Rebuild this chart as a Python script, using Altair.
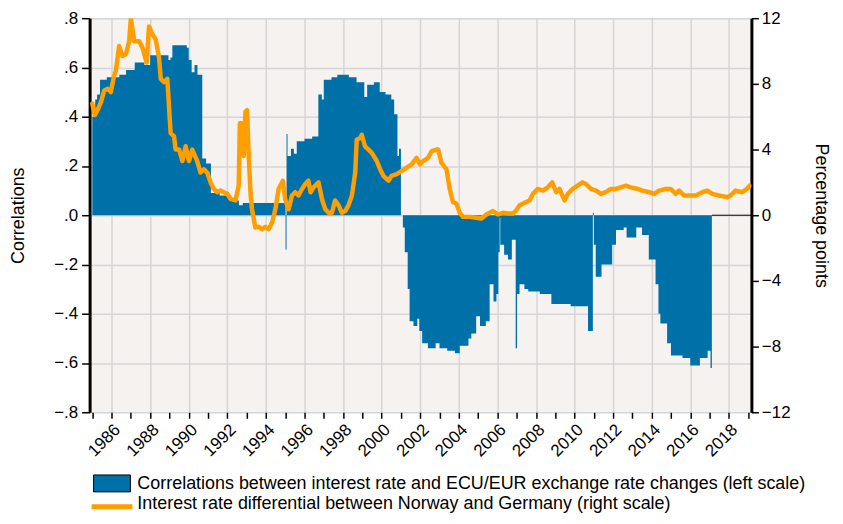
import altair as alt
import pandas as pd

# ---------------- data ----------------
corr_year = [1985.00, 1985.15, 1985.25, 1985.40, 1985.75, 1986.40, 1986.75, 1987.20, 1987.70,
             1988.00, 1988.50, 1988.95, 1989.05, 1989.15, 1989.90, 1990.00, 1990.15, 1990.30,
             1990.45, 1990.70, 1990.90, 1991.15, 1991.60, 1992.20, 1992.60, 1992.80, 1993.20,
             1994.20, 1995.02, 1995.07, 1995.12, 1995.30, 1995.45, 1995.60, 1996.00, 1996.40,
             1996.72, 1996.90, 1997.00, 1997.40, 1997.70, 1998.30, 1998.70, 1999.10, 1999.25,
             1999.60, 1999.90, 2000.20, 2000.50, 2000.65, 2000.82, 2000.90, 2001.00, 2001.10,
             2001.20, 2001.35, 2001.45, 2001.65, 2001.85, 2001.95, 2002.10, 2002.40, 2002.80,
             2003.00, 2003.40, 2003.80, 2004.05, 2004.50, 2004.65, 2004.90, 2005.10, 2005.40,
             2005.60, 2005.80, 2005.95, 2006.05, 2006.12, 2006.15, 2006.35, 2006.55, 2006.75,
             2006.95, 2007.02, 2007.15, 2007.40, 2007.60, 2008.20, 2008.80, 2009.80, 2010.70,
             2010.95, 2011.00, 2011.10, 2011.40, 2011.95, 2012.15, 2012.55, 2012.70, 2013.20,
             2013.50, 2013.85, 2014.20, 2014.35, 2014.45, 2014.80, 2015.00, 2015.60, 2016.00,
             2016.50, 2016.90, 2017.05, 2017.12]
corr_value = [0.40, 0.47, 0.49, 0.55, 0.56, 0.57, 0.59, 0.62, 0.61,
              0.65, 0.65, 0.63, 0.64, 0.69, 0.68, 0.63, 0.58, 0.61,
              0.57, 0.23, 0.21, 0.09, 0.08, 0.06, 0.04, 0.05, 0.05,
              0.05, -0.14, 0.33, 0.24, 0.27, 0.25, 0.30, 0.31, 0.32,
              0.49, 0.47, 0.55, 0.56, 0.57, 0.56, 0.54, 0.48, 0.53,
              0.54, 0.50, 0.49, 0.47, 0.41, 0.24, 0.27, 0.00, -0.05,
              -0.15, -0.30, -0.43, -0.45, -0.42, -0.47, -0.52, -0.54, -0.52,
              -0.54, -0.55, -0.56, -0.53, -0.50, -0.48, -0.41, -0.45, -0.43,
              -0.28, -0.35, -0.32, -0.15, -0.01, -0.12, -0.16, -0.18, -0.10,
              -0.54, -0.32, -0.28, -0.30, -0.31, -0.32, -0.36, -0.37, -0.47,
              0.01, -0.12, -0.25, -0.20, -0.12, -0.06, -0.05, -0.09, -0.05,
              -0.08, -0.18, -0.28, -0.40, -0.44, -0.52, -0.57, -0.58, -0.61,
              -0.58, -0.55, -0.62, -0.62]

diff_year = [1985.00, 1985.13, 1985.27, 1985.45, 1985.62, 1985.80, 1985.96, 1986.13, 1986.22,
             1986.39, 1986.56, 1986.74, 1986.91, 1987.00, 1987.17, 1987.43, 1987.60, 1987.82,
             1987.94, 1988.12, 1988.29, 1988.46, 1988.55, 1988.72, 1988.89, 1989.06, 1989.24,
             1989.32, 1989.50, 1989.67, 1989.84, 1990.01, 1990.18, 1990.44, 1990.61, 1990.78,
             1990.96, 1991.13, 1991.30, 1991.47, 1991.65, 1991.82, 1992.00, 1992.16, 1992.42,
             1992.59, 1992.65, 1992.77, 1992.85, 1992.94, 1993.02, 1993.11, 1993.20, 1993.28,
             1993.45, 1993.63, 1993.80, 1993.97, 1994.14, 1994.32, 1994.49, 1994.66, 1994.75,
             1994.88, 1995.00, 1995.18, 1995.35, 1995.52, 1995.69, 1995.87, 1996.04, 1996.20,
             1996.32, 1996.47, 1996.73, 1996.91, 1997.08, 1997.25, 1997.42, 1997.59, 1997.77,
             1997.94, 1998.11, 1998.28, 1998.46, 1998.63, 1998.71, 1998.89, 1998.97, 1999.14,
             1999.32, 1999.49, 1999.75, 1999.92, 2000.09, 2000.35, 2000.52, 2000.78, 2001.04,
             2001.30, 2001.56, 2001.81, 2001.98, 2002.15, 2002.41, 2002.59, 2002.84, 2002.93,
             2003.10, 2003.36, 2003.53, 2003.70, 2003.88, 2004.05, 2004.22, 2004.57, 2004.91,
             2005.17, 2005.43, 2005.77, 2006.03, 2006.29, 2006.55, 2006.81, 2006.98, 2007.15,
             2007.32, 2007.49, 2007.67, 2007.84, 2008.10, 2008.36, 2008.61, 2008.84, 2009.05,
             2009.22, 2009.48, 2009.65, 2009.91, 2010.16, 2010.42, 2010.59, 2010.85, 2011.11,
             2011.37, 2011.62, 2011.88, 2012.14, 2012.40, 2012.66, 2012.92, 2013.28, 2013.52,
             2013.87, 2014.13, 2014.39, 2014.73, 2014.99, 2015.25, 2015.42, 2015.68, 2015.94,
             2016.28, 2016.63, 2016.88, 2017.14, 2017.49, 2017.92, 2018.09, 2018.35, 2018.69,
             2018.95, 2019.08]
diff_value = [6.8, 6.1, 6.4, 6.9, 7.6, 7.7, 7.5, 8.5, 8.8,
              10.3, 9.7, 9.8, 10.6, 12.0, 10.6, 10.6, 10.2, 9.3,
              11.5, 11.0, 10.7, 9.6, 8.3, 8.1, 8.3, 5.0, 4.8,
              4.0, 4.0, 3.3, 4.2, 3.3, 4.0, 3.3, 2.6, 2.8,
              2.6, 2.0, 1.6, 1.4, 1.5, 1.4, 1.3, 1.0, 0.9,
              1.8, 5.6, 5.6, 3.6, 6.3, 6.4, 3.6, 1.4, 0.36,
              -0.74, -0.7, -0.85, -0.7, -0.85, -0.44, 0.36, 1.6, 1.8,
              2.1, 0.96, 0.36, 1.2, 1.4, 1.2, 1.6, 1.9, 2.1,
              1.4, 1.7, 2.0, 0.96, 0.36, 0.15, 0.15, 0.9, 0.6,
              0.15, 0.25, 0.6, 1.2, 2.6, 4.6, 4.7, 4.9, 4.2,
              4.0, 3.8, 3.3, 2.8, 2.4, 2.1, 2.4, 2.5, 2.7,
              2.9, 3.1, 3.5, 3.1, 3.3, 3.5, 3.9, 4.0, 4.0,
              3.2, 2.8, 1.6, 0.8, 0.7, 0.15, -0.1, -0.1, -0.15,
              -0.2, 0.05, 0.25, 0.05, 0.15, 0.1, 0.1, 0.3, 0.6,
              0.7, 0.8, 0.9, 1.3, 1.6, 1.5, 1.7, 2.0, 1.4,
              1.6, 0.9, 1.3, 1.6, 1.8, 2.0, 1.9, 1.6, 1.5,
              1.3, 1.4, 1.6, 1.6, 1.7, 1.8, 1.7, 1.6, 1.5,
              1.4, 1.3, 1.5, 1.6, 1.6, 1.3, 1.5, 1.2, 1.2,
              1.2, 1.4, 1.5, 1.3, 1.2, 1.1, 1.2, 1.5, 1.4,
              1.6, 1.8]

x_domain = [1984.86, 2019.17]
year_ticks = list(range(1985, 2020))
left_ticks = [-0.8, -0.6, -0.4, -0.2, 0.0, 0.2, 0.4, 0.6, 0.8]
left_domain = [-0.8, 0.8]
right_ticks = [-12, -8, -4, 0, 4, 8, 12]
right_domain = [-12, 12]
legend_labels = [
    "Correlations between interest rate and ECU/EUR exchange rate changes (left scale)",
    "Interest rate differential between Norway and Germany (right scale)",
]

BLUE = "#0070A8"
ORANGE = "#FF9E00"
BG = "#F5F2EF"
GRID = "#D6D6D6"
FONT = "Liberation Sans"

corr_df = pd.DataFrame({"year": corr_year, "corr": corr_value})
diff_df = pd.DataFrame({"year": diff_year, "diff": diff_value})
zero_df = pd.DataFrame({"x0": [corr_year[-1]], "x1": [x_domain[1]]})
one_df = pd.DataFrame({"k": [0]})

x_scale = alt.Scale(domain=x_domain, nice=False, zero=False)
x_axis = alt.Axis(
    values=year_ticks,
    labelExpr="datum.value % 2 == 0 ? format(datum.value, 'd') : ''",
    labelAngle=-45, labelOverlap=False, labelFlush=False,
    labelFontSize=17, labelFont=FONT, labelColor="black", labelPadding=3,
    domain=False, ticks=True, tickColor="black", tickSize=6, tickWidth=1.5,
    grid=True, gridColor=GRID, gridWidth=1.5,
    gridOpacity={"condition": {"test": "datum.value % 2 == 0", "value": 1}, "value": 0},
    title=None,
)
yl_scale = alt.Scale(domain=left_domain, nice=False, zero=False)
yl_axis = alt.Axis(
    orient="left", values=left_ticks,
    labelExpr="replace(format(datum.value, '.1f'), '0.', '.')",
    labelFontSize=17, labelFont=FONT, labelColor="black", labelPadding=4,
    grid=True, gridColor=GRID, gridWidth=1.5,
    domain=True, domainColor="black", domainWidth=3,
    ticks=True, tickColor="black", tickSize=8, tickWidth=1.5,
    title="Correlations", titleFontSize=18, titleFont=FONT, titleFontWeight="normal",
    titleColor="black", titlePadding=26,
)
yr_axis = alt.Axis(
    orient="right", values=right_ticks,
    labelFontSize=17, labelFont=FONT, labelColor="black", labelPadding=3,
    grid=False,
    domain=True, domainColor="black", domainWidth=3,
    ticks=True, tickColor="black", tickSize=7, tickWidth=1.5,
    title="Percentage points", titleFontSize=18, titleFont=FONT, titleFontWeight="normal",
    titleColor="black", titlePadding=22,
)

area = alt.Chart(corr_df).mark_area(color=BLUE, interpolate="step-after").encode(
    x=alt.X("year:Q", scale=x_scale, axis=x_axis),
    y=alt.Y("corr:Q", scale=yl_scale, axis=yl_axis),
)
zero = alt.Chart(zero_df).mark_rule(color="black", strokeWidth=1).encode(
    x=alt.X("x0:Q", scale=x_scale, axis=x_axis),
    x2="x1:Q",
    y=alt.YDatum(0, type="quantitative", scale=yl_scale, axis=yl_axis),
)
left_layer = alt.layer(area, zero)

line = alt.Chart(diff_df).mark_line(
    color=ORANGE, strokeWidth=4.5, strokeJoin="round", strokeCap="round", clip=True
).encode(
    x=alt.X("year:Q", scale=x_scale, axis=x_axis),
    y=alt.Y("diff:Q", scale=alt.Scale(domain=right_domain, nice=False, zero=False), axis=yr_axis),
)

leg_rect = alt.Chart(one_df).mark_rect(color=BLUE, stroke="black", strokeWidth=1).encode(
    x=alt.value(4), x2=alt.value(41), y=alt.value(459), y2=alt.value(476)
)
leg_line = alt.Chart(one_df).mark_rule(color=ORANGE, strokeWidth=5).encode(
    x=alt.value(2), x2=alt.value(43), y=alt.value(491)
)
leg_text1 = alt.Chart(one_df).mark_text(
    align="left", baseline="alphabetic", fontSize=18, font=FONT, color="black"
).encode(x=alt.value(48), y=alt.value(473), text=alt.value(legend_labels[0]))
leg_text2 = alt.Chart(one_df).mark_text(
    align="left", baseline="alphabetic", fontSize=18, font=FONT, color="black"
).encode(x=alt.value(48), y=alt.value(493), text=alt.value(legend_labels[1]))

chart = alt.layer(
    left_layer, line, leg_rect, leg_line, leg_text1, leg_text2
).resolve_scale(y="independent").properties(
    width=665, height=396,
    padding={"left": 82, "top": 9, "right": 84, "bottom": 103},
    autosize=alt.AutoSizeParams(type="none"),
    background="white",
).configure_view(fill=BG, strokeWidth=0)

chart.save("out.html", embed_options={"renderer": "svg", "actions": False})
